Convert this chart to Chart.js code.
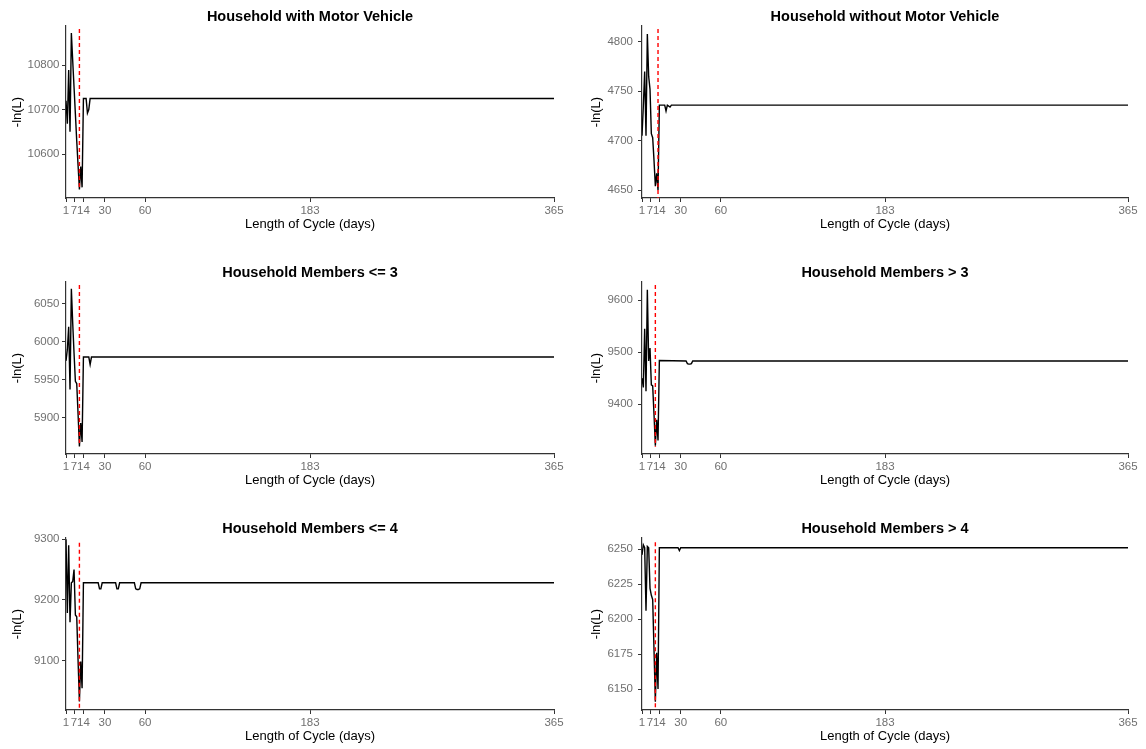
<!DOCTYPE html>
<html>
<head>
<meta charset="utf-8">
<script src="https://cdn.jsdelivr.net/npm/chart.js@4.4.1/dist/chart.umd.min.js"></script>
<style>
  body { margin: 0; background: #fff; }
  #wrap { position: relative; width: 1146px; height: 749px; }
  canvas { position: absolute; }
</style>
</head>
<body>
<div id="wrap"></div>
<script>
const xTicks = [1, 7, 14, 30, 60, 183, 365];

// Household with Motor Vehicle
const motorDays = [1, 2, 3, 4, 5, 6, 7, 8, 9, 10, 11, 12, 13, 14, 15, 16, 17, 18, 19, 365];
const motorLL = [10720, 10668, 10789, 10650, 10872, 10810, 10750, 10690, 10630, 10575, 10520, 10572, 10525, 10725, 10725, 10725, 10692, 10700, 10725, 10725];
const motorTicks = [10600, 10700, 10800];

// Household without Motor Vehicle
const noMotorDays = [1, 2, 3, 4, 5, 6, 7, 8, 9, 10, 11, 12, 13, 14, 15, 16, 17, 18, 19, 20, 22, 23, 365];
const noMotorLL = [4705, 4735, 4770, 4705, 4808, 4765, 4752, 4707, 4703, 4680, 4654, 4667, 4650, 4736, 4736, 4736, 4736, 4736, 4730, 4736, 4734, 4736, 4736];
const noMotorTicks = [4650, 4700, 4750, 4800];

// Household Members <= 3
const small3Days = [1, 2, 3, 4, 5, 6, 7, 8, 9, 10, 11, 12, 13, 14, 15, 16, 17, 18, 19, 20, 365];
const small3LL = [5975, 5990, 6020, 5937, 6070, 6025, 5985, 5948, 5945, 5905, 5862, 5893, 5868, 5980, 5980, 5980, 5980, 5980, 5970, 5980, 5980];
const small3Ticks = [5900, 5950, 6000, 6050];

// Household Members > 3
const large3Days = [1, 2, 3, 4, 5, 6, 7, 8, 9, 10, 11, 12, 13, 14, 34, 35, 36, 37, 38, 39, 365];
const large3LL = [9450, 9432, 9545, 9425, 9620, 9483, 9508, 9437, 9435, 9380, 9320, 9370, 9330, 9484, 9483, 9478, 9477, 9477, 9478, 9483, 9483];
const large3Ticks = [9400, 9500, 9600];

// Household Members <= 4
const small4Days = [1, 2, 3, 4, 5, 6, 7, 8, 9, 10, 11, 12, 13, 14, 25, 26, 27, 28, 38, 39, 40, 41, 52, 53, 54, 55, 56, 57, 365];
const small4LL = [9300, 9178, 9290, 9163, 9228, 9230, 9250, 9175, 9172, 9100, 9032, 9098, 9054, 9228, 9228, 9218, 9218, 9228, 9228, 9218, 9218, 9228, 9228, 9218, 9217, 9217, 9218, 9228, 9228];
const small4Ticks = [9100, 9200, 9300];

// Household Members > 4
const large4Days = [1, 2, 3, 4, 5, 6, 7, 8, 9, 10, 11, 12, 13, 14, 28, 29, 30, 365];
const large4LL = [6246, 6253, 6251, 6206, 6252, 6251, 6222, 6217, 6214, 6178, 6141, 6176, 6150, 6251, 6251, 6249, 6251, 6251];
const large4Ticks = [6150, 6175, 6200, 6225, 6250];

// best cycle length (red dashed line) and its vertical extent
const optimumDay = [11, 13, 11, 11, 11, 11];
const optimumTop = [10881, 4813, 6075, 9629, 9294, 6255];
const optimumBottom = [10519, 4642, 5863, 9318, 9018, 6135];

const panels = [
  { title: 'Household with Motor Vehicle', days: motorDays, ll: motorLL, ticks: motorTicks, min: 10501, max: 10888 },
  { title: 'Household without Motor Vehicle', days: noMotorDays, ll: noMotorLL, ticks: noMotorTicks, min: 4642, max: 4816 },
  { title: 'Household Members <= 3', days: small3Days, ll: small3LL, ticks: small3Ticks, min: 5852, max: 6079 },
  { title: 'Household Members > 3', days: large3Days, ll: large3LL, ticks: large3Ticks, min: 9304, max: 9635 },
  { title: 'Household Members <= 4', days: small4Days, ll: small4LL, ticks: small4Ticks, min: 9018, max: 9302 },
  { title: 'Household Members > 4', days: large4Days, ll: large4LL, ticks: large4Ticks, min: 6135, max: 6258 }
];

const font = 'Liberation Sans, Arial, sans-serif';
const wrap = document.getElementById('wrap');

panels.forEach((p, i) => {
  const col = i % 2;
  const row = Math.floor(i / 2);
  const canvas = document.createElement('canvas');
  canvas.width = 573;
  canvas.height = 237;
  canvas.style.left = (col * 573) + 'px';
  canvas.style.top = (row * 256) + 'px';
  wrap.appendChild(canvas);

  new Chart(canvas, {
    type: 'line',
    data: {
      datasets: [
        {
          data: p.days.map((d, k) => ({ x: d, y: p.ll[k] })),
          borderColor: '#000',
          borderWidth: 1.4,
          pointRadius: 0,
          tension: 0,
          order: 1
        },
        {
          // red dashed marker on top of the curve
          data: [{ x: optimumDay[i], y: optimumTop[i] }, { x: optimumDay[i], y: optimumBottom[i] }],
          borderColor: '#ff0000',
          borderWidth: 1.4,
          borderDash: [4, 3],
          pointRadius: 0,
          order: 0
        }
      ]
    },
    options: {
      responsive: false,
      animation: false,
      devicePixelRatio: 1,
      layout: { padding: { left: 0, right: col ? 18 : 19, top: 0, bottom: 0 } },
      plugins: {
        legend: { display: false },
        tooltip: { enabled: false },
        title: {
          display: true,
          text: p.title,
          fullSize: false,
          color: '#000',
          font: { family: font, size: 14.5, weight: 'bold' },
          padding: { top: 8.3, bottom: 0.3 }
        }
      },
      scales: {
        x: {
          type: 'linear',
          min: 1,
          max: 365,
          afterBuildTicks: s => { s.ticks = xTicks.map(v => ({ value: v })); },
          afterFit: s => { s.height = 39; },
          grid: { drawOnChartArea: false, drawTicks: true, tickLength: 4, color: '#333' },
          border: { color: '#333', width: 1.2 },
          ticks: {
            autoSkip: false, maxRotation: 0, padding: 1.5, color: '#707070',
            font: { family: font, size: 11.5 },
            callback: v => String(v)
          },
          title: {
            display: true, text: 'Length of Cycle (days)', color: '#000',
            font: { family: font, size: 13 }, padding: { top: 0, bottom: 5.2 }
          }
        },
        y: {
          min: p.min,
          max: p.max,
          afterBuildTicks: s => { s.ticks = p.ticks.map(v => ({ value: v })); },
          afterFit: s => { s.width = col ? 69 : 66; },
          grid: { drawOnChartArea: false, drawTicks: true, tickLength: 4, color: '#333' },
          border: { color: '#333', width: 1.2 },
          ticks: {
            padding: col ? 5 : 2.5, color: '#707070',
            font: { family: font, size: 11.5 },
            callback: v => String(v)
          },
          title: {
            display: true, text: '-ln(L)', color: '#000',
            font: { family: font, size: 13 }, padding: { top: col ? 15.2 : 10, bottom: 0 }
          }
        }
      }
    }
  });
});
</script>
</body>
</html>
